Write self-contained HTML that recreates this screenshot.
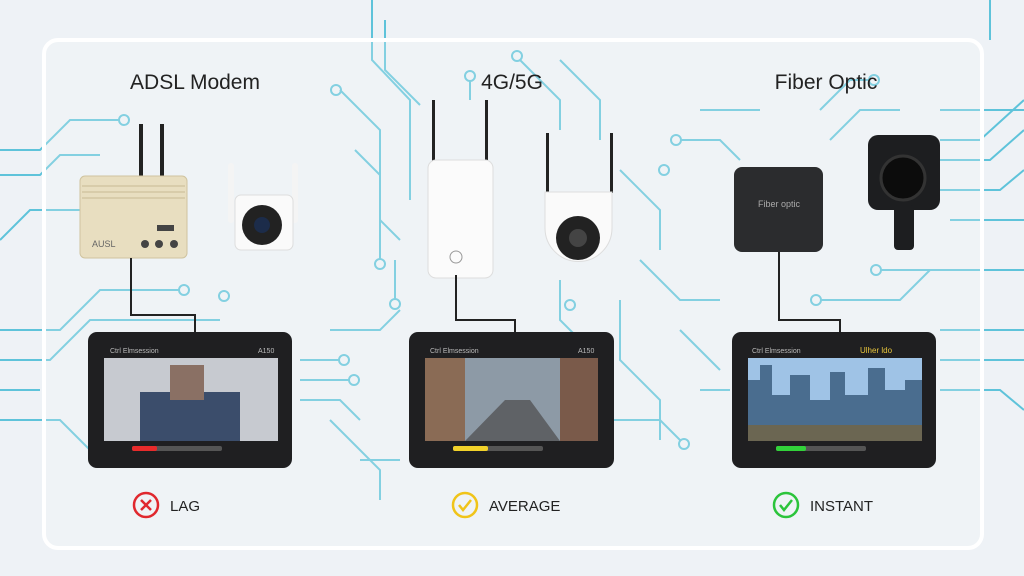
<!DOCTYPE html>
<html><head><meta charset="utf-8"><style>
html,body{margin:0;padding:0;background:#eef2f6;}
svg{display:block}
text{font-family:"Liberation Sans",sans-serif}
</style></head><body>
<svg width="1024" height="576" viewBox="0 0 1024 576" xmlns="http://www.w3.org/2000/svg">
<rect width="1024" height="576" fill="#eef2f6"/>
<g stroke="#5ec3da" stroke-width="2" fill="none">
<path d="M0 150 H40 L70 120 H120"/><circle cx="124" cy="120" r="5"/>
<path d="M0 175 H40 L60 155 H100"/>
<path d="M0 240 L30 210 H80"/>
<path d="M0 330 H60 L100 290 H180"/><circle cx="184" cy="290" r="5"/>
<path d="M0 360 H50 L90 320 H220"/><circle cx="224" cy="296" r="5"/>
<path d="M0 390 H40"/><path d="M0 420 H60 L100 460"/>
<path d="M300 360 H340"/><circle cx="344" cy="360" r="5"/>
<path d="M300 380 H350"/><circle cx="354" cy="380" r="5"/>
<path d="M300 400 H340 L360 420"/>
<path d="M330 420 L380 470 V500"/>
<path d="M340 90 L380 130 V220 L400 240"/><circle cx="336" cy="90" r="5"/>
<path d="M372 0 V60 L410 100 V200"/>
<path d="M385 20 V70 L420 105"/>
<path d="M355 150 L380 175 V260"/><circle cx="380" cy="264" r="5"/>
<path d="M395 260 V300"/><circle cx="395" cy="304" r="5"/>
<path d="M330 330 H380 L400 310"/>
<path d="M360 460 H400"/>
<path d="M470 100 V80"/><circle cx="470" cy="76" r="5"/>
<path d="M520 60 L560 100 V130"/><circle cx="517" cy="56" r="5"/>
<path d="M560 60 L600 100 V140"/>
<path d="M620 170 L660 210 V250"/><circle cx="664" cy="170" r="5"/>
<path d="M560 280 V320 L600 360"/><circle cx="570" cy="305" r="5"/>
<path d="M620 300 V360 L660 400 V440"/>
<path d="M640 260 L680 300 H720"/>
<path d="M614 420 H660 L680 440"/><circle cx="684" cy="444" r="5"/>
<path d="M680 140 H720 L740 160"/><circle cx="676" cy="140" r="5"/>
<path d="M700 110 H760"/>
<path d="M820 110 L850 80 H870"/><circle cx="874" cy="80" r="5"/>
<path d="M830 140 L860 110 H900"/>
<path d="M940 140 H980 L1024 100"/><path d="M940 160 H990 L1024 130"/>
<path d="M940 190 H1000 L1024 170"/><path d="M950 220 H1024"/>
<path d="M880 270 H1024"/><circle cx="876" cy="270" r="5"/>
<path d="M820 300 H900 L930 270"/><circle cx="816" cy="300" r="5"/>
<path d="M940 330 H1024"/><path d="M940 360 H1024"/><path d="M940 390 H1000 L1024 410"/>
<path d="M680 330 L720 370"/><path d="M700 390 H730"/>
<path d="M990 40 V0"/><path d="M940 110 H1024"/>
</g>
<rect x="44" y="40" width="938" height="508" rx="14" fill="#f3f6f9" fill-opacity="0.25" stroke="#ffffff" stroke-width="4"/>
<text x="195" y="89" font-size="21" text-anchor="middle" fill="#222">ADSL Modem</text>
<text x="512" y="89" font-size="21" text-anchor="middle" fill="#222">4G/5G</text>
<text x="826" y="89" font-size="21" text-anchor="middle" fill="#222">Fiber Optic</text>
<!-- ADSL -->
<rect x="139" y="124" width="4" height="55" fill="#222"/><rect x="160" y="124" width="4" height="55" fill="#222"/>
<rect x="80" y="176" width="107" height="82" rx="5" fill="#e8dec0" stroke="#cfc39f"/>
<path d="M82 186H185M82 192H185M82 198H185" stroke="#c8bb95"/>
<circle cx="145" cy="244" r="4" fill="#444"/><circle cx="159" cy="244" r="4" fill="#444"/><circle cx="174" cy="244" r="4" fill="#444"/>
<rect x="157" y="225" width="17" height="6" fill="#444"/>
<text x="92" y="247" font-size="9" fill="#666">AUSL</text>
<path d="M131 258 V315 H195 V332" stroke="#222" stroke-width="2" fill="none"/>
<rect x="228" y="163" width="6" height="60" rx="3" fill="#f4f4f4"/><rect x="292" y="163" width="6" height="60" rx="3" fill="#f4f4f4"/>
<rect x="235" y="195" width="58" height="55" rx="6" fill="#fafafa" stroke="#ddd"/>
<circle cx="262" cy="225" r="20" fill="#222"/><circle cx="262" cy="225" r="8" fill="#1c2c4a"/>
<!-- 4G -->
<rect x="432" y="100" width="3" height="65" fill="#222"/><rect x="485" y="100" width="3" height="65" fill="#222"/>
<rect x="428" y="160" width="65" height="118" rx="8" fill="#fbfbfb" stroke="#ddd"/>
<circle cx="456" cy="257" r="6" fill="none" stroke="#999"/>
<path d="M456 275 V320 H515 V332" stroke="#222" stroke-width="2" fill="none"/>
<rect x="546" y="133" width="3" height="60" fill="#222"/><rect x="610" y="133" width="3" height="60" fill="#222"/>
<path d="M545 192 H612 V228 A33 33 0 0 1 545 228 Z" fill="#fafafa" stroke="#ddd"/>
<circle cx="578" cy="238" r="22" fill="#222"/><circle cx="578" cy="238" r="9" fill="#444"/>
<!-- Fiber -->
<rect x="734" y="167" width="89" height="85" rx="8" fill="#2b2c2e"/>
<text x="779" y="207" font-size="9" fill="#aaa" text-anchor="middle">Fiber optic</text>
<path d="M779 252 V320 H840 V332" stroke="#222" stroke-width="2" fill="none"/>
<rect x="868" y="135" width="72" height="75" rx="10" fill="#1d1e20"/>
<circle cx="903" cy="178" r="22" fill="#0c0c0c" stroke="#333" stroke-width="3"/>
<rect x="894" y="205" width="20" height="45" rx="4" fill="#1d1e20"/>
<!-- tablets -->
<g>
<rect x="88" y="332" width="204" height="136" rx="9" fill="#1f1f21"/>
<text x="110" y="353" font-size="7" fill="#bbb">Ctrl  Elmsession</text><text x="258" y="353" font-size="7" fill="#bbb">A150</text>
<rect x="104" y="358" width="174" height="83" fill="#c7cad0"/>
<rect x="140" y="392" width="100" height="49" fill="#3b4d6b"/><rect x="170" y="365" width="34" height="35" fill="#8a7064"/>
<rect x="132" y="446" width="90" height="5" rx="2" fill="#555"/><rect x="132" y="446" width="25" height="5" rx="2" fill="#e82b2b"/>
</g>
<g>
<rect x="409" y="332" width="205" height="136" rx="9" fill="#1f1f21"/>
<text x="430" y="353" font-size="7" fill="#bbb">Ctrl  Elmsession</text><text x="578" y="353" font-size="7" fill="#bbb">A150</text>
<rect x="425" y="358" width="173" height="83" fill="#8d9aa6"/>
<rect x="425" y="358" width="40" height="83" fill="#8a6b55"/><rect x="560" y="358" width="38" height="83" fill="#7a5a4a"/>
<path d="M465 441 L505 400 L530 400 L560 441 Z" fill="#5f6266"/>
<rect x="453" y="446" width="90" height="5" rx="2" fill="#555"/><rect x="453" y="446" width="35" height="5" rx="2" fill="#f2d22a"/>
</g>
<g>
<rect x="732" y="332" width="204" height="136" rx="9" fill="#1f1f21"/>
<text x="752" y="353" font-size="7" fill="#bbb">Ctrl  Elmsession</text><text x="860" y="353" font-size="8" fill="#e8c53c">Ulher ldo</text>
<rect x="748" y="358" width="174" height="83" fill="#9fc3e6"/>
<path d="M748 430 V380 H760 V365 H772 V395 H790 V375 H810 V400 H830 V372 H845 V395 H868 V368 H885 V390 H905 V380 H922 V430 Z" fill="#4a6d8f"/>
<rect x="748" y="425" width="174" height="16" fill="#6b6652"/>
<rect x="776" y="446" width="90" height="5" rx="2" fill="#555"/><rect x="776" y="446" width="30" height="5" rx="2" fill="#32d23a"/>
</g>
<!-- status -->
<circle cx="146" cy="505" r="12" fill="none" stroke="#e0282e" stroke-width="2.5"/>
<path d="M141 500 L151 510 M151 500 L141 510" stroke="#e0282e" stroke-width="2.5"/>
<text x="170" y="511" font-size="15" fill="#222">LAG</text>
<circle cx="465" cy="505" r="12" fill="none" stroke="#f0c419" stroke-width="2.5"/>
<path d="M459 505 L463 510 L471 500" stroke="#f0c419" stroke-width="2.5" fill="none"/>
<text x="489" y="511" font-size="15" fill="#222">AVERAGE</text>
<circle cx="786" cy="505" r="12" fill="none" stroke="#2bc43b" stroke-width="2.5"/>
<path d="M780 505 L784 510 L792 500" stroke="#2bc43b" stroke-width="2.5" fill="none"/>
<text x="810" y="511" font-size="15" fill="#222">INSTANT</text>
</svg>
</body></html>
